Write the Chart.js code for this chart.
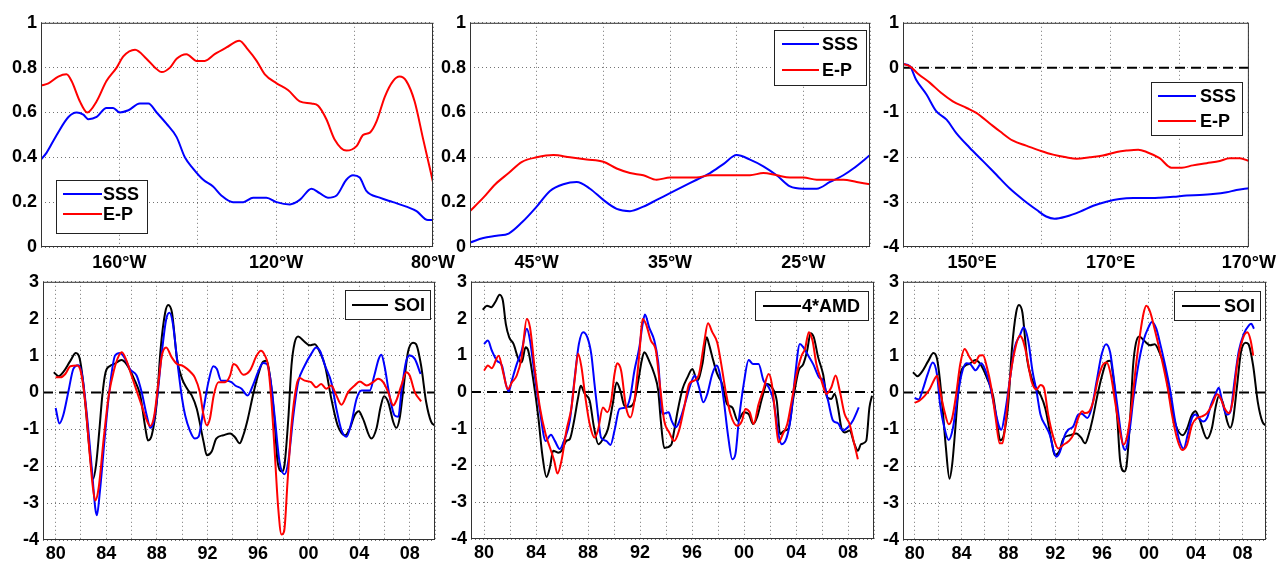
<!DOCTYPE html>
<html>
<head>
<meta charset="utf-8">
<script src="https://cdn.jsdelivr.net/npm/chart.js@4.4.1/dist/chart.umd.min.js"></script>
<style>
  body { margin: 0; background: #fff; width: 1277px; height: 562px; position: relative; overflow: hidden; }
  canvas { position: absolute; }
</style>
</head>
<body>
<canvas id="c1"></canvas>
<canvas id="c2"></canvas>
<canvas id="c3"></canvas>
<canvas id="c4"></canvas>
<canvas id="c5"></canvas>
<canvas id="c6"></canvas>
<script>
// ---- top row: correlation along longitude ----
const p1SssLon = [-180,-178.6,-176,-173,-170.9,-169.2,-167.9,-165.8,-163.3,-161.6,-159.9,-157.7,-154.8,-152.6,-150.5,-148,-145.4,-143.3,-141.2,-138.6,-136.1,-134,-131,-128.4,-125.9,-122.5,-119.9,-116.5,-114,-111,-108.9,-106.8,-104.6,-102.1,-100.4,-98.7,-97,-93.6,-90.2,-86.8,-84.2,-81.3,-80];
const p1SssVal = [0.39,0.42,0.5,0.58,0.6,0.59,0.57,0.58,0.62,0.62,0.6,0.61,0.64,0.64,0.6,0.55,0.49,0.4,0.35,0.3,0.27,0.23,0.2,0.2,0.22,0.22,0.2,0.19,0.21,0.26,0.24,0.22,0.23,0.3,0.32,0.31,0.25,0.22,0.2,0.18,0.16,0.12,0.12];
const p1EpLon = [-180,-178.1,-175.6,-173.5,-172.2,-170.1,-168.2,-165.8,-163.3,-160.7,-159,-156,-153.1,-150.9,-149.2,-147.1,-145.4,-142.9,-140.3,-138.2,-135.7,-132.7,-129.4,-127.2,-125,-122.9,-119.9,-117,-114,-111,-109.3,-107.2,-105.1,-102.1,-99.5,-97.8,-96.1,-94.4,-92.3,-90.2,-88.5,-86.8,-84.7,-82.5,-80];
const p1EpVal = [0.72,0.73,0.76,0.77,0.74,0.65,0.6,0.65,0.74,0.8,0.85,0.88,0.84,0.8,0.78,0.8,0.84,0.86,0.83,0.83,0.86,0.89,0.92,0.88,0.83,0.77,0.73,0.7,0.65,0.64,0.63,0.57,0.48,0.43,0.45,0.5,0.51,0.56,0.67,0.74,0.76,0.74,0.65,0.48,0.29];

const p2SssLon = [-50,-49,-48,-47.1,-46.1,-45,-44,-43,-42,-41,-40,-39,-38,-37,-36,-35,-34,-33,-32,-31,-30,-29,-28,-27,-26,-25,-24,-23,-22,-21.25,-20];
const p2SssVal = [0.02,0.04,0.05,0.06,0.11,0.18,0.25,0.28,0.29,0.26,0.21,0.17,0.16,0.18,0.21,0.24,0.27,0.3,0.33,0.37,0.41,0.39,0.36,0.32,0.27,0.26,0.26,0.29,0.32,0.35,0.41];
const p2EpLon = [-50,-49,-48.1,-47.1,-46.1,-45,-43.75,-42.5,-41.25,-40,-39,-38,-37,-36,-35,-34,-33,-32,-31,-30,-29,-28,-27,-26,-25,-24,-23,-22,-21,-20];
const p2EpVal = [0.16,0.22,0.28,0.33,0.38,0.4,0.41,0.4,0.39,0.38,0.35,0.33,0.32,0.3,0.31,0.31,0.31,0.32,0.32,0.32,0.32,0.33,0.32,0.31,0.31,0.3,0.3,0.3,0.29,0.28];

const p3SssLon = [140,141,141.9,143.4,144.8,146.3,147.7,149.6,151.6,153.5,155.4,157.4,159.3,160.7,161.9,163.6,165.6,167.5,169.4,171.3,173.3,175.2,177.1,179.1,181,182.9,184.8,186.8,188.2,190];
const p3SssVal = [0.08,0.03,-0.27,-0.6,-0.97,-1.16,-1.46,-1.78,-2.09,-2.39,-2.69,-2.95,-3.17,-3.32,-3.37,-3.32,-3.21,-3.08,-2.99,-2.93,-2.91,-2.91,-2.9,-2.88,-2.85,-2.84,-2.82,-2.78,-2.73,-2.69];
const p3EpLon = [140,141,142.2,143.9,145.5,147.2,149.2,150.6,152.5,154,155.9,157.8,159.8,161.7,163.6,165.1,167,168.9,170.9,172.3,174,175.2,177.1,178.8,180.3,181.9,183.9,185.8,187.2,188.7,190];
const p3EpVal = [0.08,0.03,-0.14,-0.34,-0.56,-0.75,-0.9,-1.01,-1.24,-1.42,-1.63,-1.74,-1.85,-1.94,-2.0,-2.03,-2.0,-1.96,-1.88,-1.85,-1.83,-1.88,-2.02,-2.23,-2.23,-2.18,-2.13,-2.08,-2.02,-2.02,-2.08];

// ---- bottom row: time series ----
const soiYear = [1979.85,1980.25,1980.6,1981.15,1981.6,1981.9,1982.15,1982.4,1982.65,1982.97,1983.2,1983.45,1983.7,1983.95,1984.3,1984.7,1985.2,1985.6,1986.2,1986.7,1987.1,1987.3,1987.6,1988.0,1988.3,1988.66,1988.9,1989.2,1989.6,1990.0,1990.4,1990.76,1991.16,1991.7,1991.95,1992.34,1992.7,1993.26,1993.8,1994.2,1994.55,1994.84,1995.2,1995.6,1996.0,1996.4,1996.7,1996.94,1997.3,1997.55,1997.9,1998.1,1998.4,1998.65,1998.9,1999.18,1999.6,2000.1,2000.5,2000.9,2001.3,2001.8,2002.3,2002.9,2003.26,2003.65,2003.97,2004.3,2004.97,2005.37,2005.7,2005.97,2006.3,2006.7,2006.94,2007.2,2007.5,2007.86,2008.26,2008.5,2008.9,2009.3,2009.7,2009.97];
const soiVal = [0.55,0.44,0.55,0.85,1.07,0.92,0.35,-0.5,-1.45,-2.34,-1.95,-1.05,-0.05,0.55,0.72,0.78,0.88,0.77,0.37,-0.1,-0.98,-1.3,-1.16,-0.26,1.17,2.16,2.37,2.16,0.9,0.37,0.1,-0.08,-0.44,-1.34,-1.7,-1.6,-1.25,-1.16,-1.11,-1.22,-1.38,-1.16,-0.71,-0.08,0.46,0.83,0.86,0.46,-0.71,-1.87,-2.14,-1.96,-0.71,0.73,1.35,1.52,1.4,1.28,1.31,1.09,0.73,-0.17,-0.89,-1.16,-0.98,-0.62,-0.51,-0.71,-1.25,-0.98,-0.39,-0.1,-0.26,-0.8,-0.96,-0.71,0.1,1.09,1.35,1.31,0.73,-0.26,-0.8,-0.89];

const p4BlueYear = [1980,1980.3,1980.6,1981,1981.4,1981.8,1982.1,1982.5,1982.9,1983.13,1983.26,1983.5,1983.9,1984.3,1984.7,1985.1,1985.5,1985.9,1986.4,1986.8,1987.2,1987.5,1987.74,1988.05,1988.4,1988.74,1989,1989.26,1989.6,1990,1990.24,1990.6,1991,1991.3,1991.7,1992.08,1992.47,1992.74,1993.1,1993.5,1993.9,1994.2,1994.7,1995.18,1995.6,1996,1996.4,1996.7,1997.02,1997.34,1997.7,1998.1,1998.4,1998.8,1999.18,1999.7,2000.2,2000.6,2000.9,2001.3,2001.8,2002.2,2002.6,2003,2003.4,2003.8,2004.2,2004.84,2005.2,2005.55,2005.76,2006,2006.4,2006.8,2007.1,2007.34,2007.7,2008,2008.4,2008.86];
const p4BlueVal = [-0.42,-0.84,-0.62,0.01,0.64,0.74,0.46,-0.71,-2.23,-3.13,-3.33,-2.68,-1.16,0.19,1.0,1.07,0.91,0.62,0.46,0.01,-0.62,-0.96,-0.8,-0.08,1.09,1.98,2.16,1.89,0.9,-0.17,-0.62,-1.02,-1.25,-1.2,-0.44,0.28,0.71,0.64,0.32,0.32,0.28,0.19,0.1,-0.08,0.19,0.55,0.8,0.77,0.28,-0.71,-1.87,-2.22,-1.87,-0.62,0.28,0.73,1.04,1.22,1.13,0.73,0.28,-0.44,-1.02,-1.2,-0.8,-0.17,0.05,0.05,0.46,0.91,1.02,0.73,-0.08,-0.62,-0.66,0.01,0.82,1.0,0.91,0.5];
const p4RedYear = [1980,1980.4,1980.76,1981.16,1981.7,1982,1982.34,1982.7,1982.95,1983.13,1983.4,1983.8,1984.2,1984.6,1985,1985.24,1985.6,1986,1986.4,1986.8,1987.2,1987.47,1987.8,1988.13,1988.4,1988.74,1989.18,1989.6,1990,1990.4,1990.76,1991,1991.4,1991.7,1991.95,1992.2,1992.5,1992.87,1993.4,1993.8,1994.05,1994.3,1994.84,1995.36,1995.9,1996.23,1996.55,1996.8,1997.07,1997.34,1997.6,1997.86,1998.07,1998.34,1998.65,1999.05,1999.3,1999.7,2000.2,2000.6,2001,2001.4,2001.8,2002.2,2002.6,2003.13,2003.65,2004.05,2004.6,2005.1,2005.5,2005.9,2006.3,2006.7,2006.94,2007.34,2007.73,2008,2008.4,2008.9];
const p4RedVal = [0.41,0.41,0.5,0.71,0.73,0.55,-0.26,-1.7,-2.59,-2.93,-2.59,-1.25,-0.08,0.59,1.0,1.09,0.86,0.46,0.05,-0.35,-0.75,-0.91,-0.62,0.28,1.0,1.22,0.95,0.77,0.73,0.64,0.52,0.41,0.01,-0.62,-0.89,-0.71,-0.08,0.28,0.28,0.46,0.77,0.73,0.48,0.59,1.0,1.13,1.0,0.73,-0.26,-1.7,-3.13,-3.85,-3.76,-2.41,-0.89,0.19,0.39,0.32,0.28,0.14,0.23,0.1,0.19,-0.08,-0.33,0.01,0.19,0.3,0.19,0.28,0.37,0.28,0.01,-0.35,-0.22,0.19,0.55,0.46,0.01,-0.24];

const amdYear = [1979.9,1980.23,1980.56,1980.87,1981.2,1981.45,1981.68,1981.94,1982.27,1982.65,1982.9,1983.2,1983.4,1983.8,1984.18,1984.48,1984.8,1985.07,1985.32,1985.7,1985.96,1986.34,1986.6,1986.93,1987.24,1987.44,1987.75,1988.13,1988.46,1988.8,1989.15,1989.53,1989.9,1990.2,1990.5,1990.8,1991.18,1991.57,1991.87,1992.13,1992.33,1992.7,1993.1,1993.4,1993.6,1993.86,1994.4,1994.63,1994.9,1995.27,1995.65,1996.03,1996.4,1996.8,1997.13,1997.3,1997.64,1997.94,1998.32,1998.7,1999.1,1999.52,1999.98,2000.36,2000.7,2001,2001.4,2001.76,2002.14,2002.52,2002.78,2003.08,2003.4,2003.8,2004.2,2004.56,2004.86,2005.12,2005.37,2005.7,2006.08,2006.4,2006.72,2006.97,2007.23,2007.48,2007.74,2008.12,2008.5,2008.76,2009,2009.4,2009.65,2009.85];
const amdVal = [2.24,2.35,2.31,2.45,2.65,2.49,1.85,1.49,1.31,0.9,0.81,1.22,1.13,0.31,-0.69,-1.69,-2.31,-2.05,-1.6,-1.65,-1.6,-1.33,-1.28,-0.78,-0.15,0.17,-0.05,-0.24,-0.96,-1.42,-1.28,-1.01,-0.33,0.26,0.02,-0.37,-0.4,-0.24,0.31,0.85,1.08,0.85,0.49,0.04,-0.78,-1.52,-1.44,-1.05,-0.51,0.08,0.4,0.63,0.31,0.76,1.49,1.31,0.85,0.49,0.22,-0.33,-0.42,-0.78,-0.55,-0.6,-0.87,-0.69,-0.15,0.22,0.13,-0.24,-1.15,-1.05,-1.01,-0.15,0.58,0.76,1.13,1.6,1.49,0.95,0.49,-0.15,-0.19,-0.05,-0.42,-0.96,-1.1,-1.05,-1.42,-1.6,-1.42,-1.33,-0.42,-0.1];
const p5BlueYear = [1980,1980.3,1980.6,1981,1981.38,1981.68,1981.9,1982.14,1982.52,1982.9,1983.3,1983.54,1983.92,1984.3,1984.74,1985.15,1985.45,1985.83,1986.2,1986.6,1986.98,1987.3,1987.62,1987.95,1988.25,1988.5,1988.76,1989,1989.4,1989.73,1990.04,1990.42,1990.93,1991.24,1991.57,1991.95,1992.2,1992.38,1992.7,1993.1,1993.4,1993.73,1994.2,1994.43,1994.76,1995.14,1995.52,1995.9,1996.21,1996.54,1996.87,1997.18,1997.56,1997.9,1998.14,1998.45,1998.76,1999.1,1999.34,1999.6,1999.98,2000.36,2000.7,2001.12,2001.5,2001.9,2002.27,2002.65,2002.9,2003.28,2003.6,2003.92,2004.3,2004.56,2004.86,2005.32,2005.78,2006.08,2006.47,2006.85,2007.23,2007.6,2007.99,2008.37,2008.83];
const p5BlueVal = [1.31,1.4,1.13,0.85,0.72,0.22,0.02,0.31,0.76,1.13,1.72,1.4,0.4,-0.51,-1.33,-1.16,-1.33,-1.55,-1.28,-0.78,0.4,1.31,1.63,1.49,1.04,0.22,-0.6,-1.24,-1.33,-1.44,-1.05,-0.46,-0.42,-0.15,0.58,1.22,1.85,2.11,1.76,1.4,0.81,-0.6,-0.55,-0.78,-0.96,-0.69,-0.24,0.22,0.45,0.13,-0.28,-0.05,0.49,0.72,0.49,-0.24,-1.15,-1.83,-1.69,-0.78,0.22,0.87,0.76,0.76,0.31,0.13,-0.24,-1.15,-1.42,-1.24,-0.69,0.4,1.31,1.22,1.04,0.76,0.4,0.31,-0.24,-0.78,-0.85,-1.05,-0.96,-0.78,-0.42];
const p5RedYear = [1980,1980.3,1980.6,1981.12,1981.5,1981.83,1982.14,1982.52,1982.9,1983.29,1983.54,1983.92,1984.3,1984.74,1985.07,1985.4,1985.65,1985.96,1986.34,1986.73,1986.98,1987.24,1987.5,1987.8,1988.13,1988.5,1988.76,1989.15,1989.48,1989.78,1990.04,1990.24,1990.55,1990.93,1991.26,1991.57,1991.95,1992.2,1992.46,1992.84,1993.22,1993.55,1993.86,1994.25,1994.63,1995,1995.4,1995.78,1996.16,1996.54,1996.92,1997.23,1997.56,1997.94,1998.25,1998.58,1998.96,1999.47,1999.85,2000.1,2000.44,2000.74,2001.12,2001.5,2001.9,2002.14,2002.4,2002.65,2002.98,2003.33,2003.67,2004.05,2004.43,2004.69,2004.99,2005.27,2005.57,2005.96,2006.34,2006.72,2007.05,2007.36,2007.74,2008.12,2008.43,2008.76];
const p5RedVal = [0.58,0.72,0.65,0.99,0.49,0.08,0.26,0.45,0.95,1.99,1.76,0.58,-0.42,-1.15,-1.51,-1.87,-2.22,-1.87,-1.05,-0.42,0.35,1.04,0.67,-0.15,-0.87,-1.24,-1.05,-0.42,-0.55,-0.24,0.49,0.78,0.58,-0.42,-0.69,-0.24,1.04,1.99,1.85,1.4,1.13,0.13,-0.78,-1.1,-1.33,-1.05,-0.42,0.22,0.31,0.49,1.31,1.87,1.63,1.35,0.76,0.04,-0.6,-0.92,-0.78,-0.46,-0.55,-0.87,-0.33,0.08,0.49,0.22,-0.6,-1.37,-1.15,-0.87,-0.24,0.49,0.99,1.17,1.63,1.4,0.76,0.31,-0.05,0.13,0.45,0.04,-0.6,-0.87,-1.33,-1.83];

const p6BlueYear = [1980,1980.34,1980.69,1981.1,1981.54,1981.9,1982.17,1982.54,1982.9,1983.26,1983.6,1984,1984.4,1984.74,1985.2,1985.69,1986.06,1986.4,1986.83,1987.2,1987.4,1987.69,1988.11,1988.54,1988.97,1989.31,1989.69,1990.06,1990.4,1990.74,1991.2,1991.54,1991.89,1992.11,1992.4,1992.83,1993.11,1993.54,1993.97,1994.26,1994.74,1995.11,1995.54,1995.97,1996.34,1996.69,1997.03,1997.4,1997.77,1997.97,1998.34,1998.68,1999.11,1999.54,1999.97,2000.25,2000.63,2000.97,2001.4,2001.83,2002.25,2002.63,2002.97,2003.31,2003.68,2003.97,2004.25,2004.63,2004.97,2005.31,2005.68,2005.97,2006.25,2006.63,2006.97,2007.31,2007.68,2008.11,2008.54,2008.74,2008.97];
const p6BlueVal = [-0.15,-0.19,0.08,0.49,0.81,0.49,-0.33,-0.97,-1.29,-0.97,-0.24,0.49,0.79,0.77,0.6,0.79,0.58,0.22,-0.42,-0.92,-1.01,-0.6,0.31,1.22,1.54,1.77,1.41,0.58,0.04,-0.6,-0.92,-1.15,-1.61,-1.74,-1.61,-1.15,-1.01,-0.92,-0.6,-0.58,-0.69,-0.42,0.31,1.04,1.31,1.09,0.31,-0.6,-1.42,-1.56,-1.06,-0.15,0.77,1.41,1.77,1.91,1.73,1.31,0.72,0.04,-0.79,-1.33,-1.52,-1.15,-0.69,-0.6,-0.69,-0.79,-0.69,-0.33,-0.05,0.13,-0.24,-0.6,-0.51,0.31,1.13,1.59,1.82,1.86,1.73];
const p6RedYear = [1980,1980.4,1980.83,1981.26,1981.69,1981.91,1982.17,1982.54,1982.91,1983.2,1983.54,1983.89,1984.26,1984.69,1985.11,1985.54,1985.83,1986.17,1986.54,1986.91,1987.26,1987.49,1987.77,1988.11,1988.54,1988.97,1989.2,1989.54,1989.97,1990.4,1990.74,1991.03,1991.4,1991.83,1992.26,1992.69,1993.11,1993.54,1993.97,1994.3,1994.54,1994.91,1995.25,1995.68,1996.11,1996.4,1996.74,1997.11,1997.48,1997.83,1998.17,1998.54,1998.91,1999.25,1999.54,1999.77,2000.11,2000.45,2000.83,2001.25,2001.6,2001.97,2002.4,2002.83,2003.25,2003.68,2004.11,2004.54,2004.97,2005.4,2005.83,2006.11,2006.45,2006.83,2007.2,2007.54,2007.97,2008.4,2008.69,2008.91];
const p6RedVal = [-0.28,-0.22,-0.1,0.08,0.36,0.45,0.04,-0.51,-0.86,-0.69,-0.05,0.77,1.18,0.95,0.79,1.0,1.01,0.68,0.13,-0.69,-1.38,-1.38,-0.79,0.31,1.13,1.54,1.45,1.04,0.31,0.08,0.2,0.13,-0.6,-1.2,-1.52,-1.42,-1.33,-1.15,-0.69,-0.51,-0.56,-0.51,-0.24,0.4,0.77,0.81,0.49,-0.24,-0.97,-1.42,-1.15,-0.33,0.77,1.59,2.14,2.35,2.18,1.77,1.27,0.68,0.13,-0.6,-1.24,-1.56,-1.42,-0.88,-0.69,-0.65,-0.56,-0.33,-0.05,-0.15,-0.42,-0.56,-0.15,0.77,1.41,1.63,1.41,1.0];

const BLUE = '#0000ff', RED = '#ff0000', BLACK = '#000000';
const FONT = { family: '"Liberation Sans", Arial, sans-serif', weight: 'bold', size: 18 };

function pts(xs, ys) {
    return xs.map((x, i) => ({ x: x, y: ys[i] }));
}

function line(label, xs, ys, color) {
    return {
        label: label, data: pts(xs, ys), borderColor: color, borderWidth: 2,
        pointRadius: 0, fill: false, cubicInterpolationMode: 'monotone'
    };
}

// axes frame, dashed zero line and MATLAB style legend box
const frame = {
    id: 'frame',
    beforeDatasetsDraw(chart, args, o) {
        if (!o.zero) return;
        const { ctx, chartArea: a } = chart;
        const y = chart.scales.y.getPixelForValue(0);
        ctx.save();
        ctx.strokeStyle = '#000';
        ctx.lineWidth = 2;
        ctx.setLineDash([10, 6]);
        ctx.beginPath();
        ctx.moveTo(a.left, y);
        ctx.lineTo(a.right, y);
        ctx.stroke();
        ctx.restore();
    },
    afterDatasetsDraw(chart) {
        const { ctx, chartArea: a } = chart;
        ctx.save();
        ctx.strokeStyle = '#333';
        ctx.lineWidth = 1;
        ctx.strokeRect(a.left + 0.5, a.top + 0.5, a.right - a.left - 1, a.bottom - a.top - 1);
        ctx.restore();
    },
    afterDraw(chart, args, o) {
        const lg = o.legend;
        if (!lg) return;
        const { ctx, chartArea: a } = chart;
        const x = Math.round(a.left + lg.dx), y = Math.round(a.top + lg.dy);
        ctx.save();
        ctx.fillStyle = '#fff';
        ctx.fillRect(x, y, lg.w, lg.h);
        ctx.strokeStyle = '#222';
        ctx.lineWidth = 1;
        ctx.strokeRect(x + 0.5, y + 0.5, lg.w, lg.h);
        ctx.font = 'bold 18px "Liberation Sans", Arial, sans-serif';
        ctx.textBaseline = 'middle';
        lg.items.forEach((it, i) => {
            const ry = y + lg.rows[i];
            ctx.strokeStyle = it.color;
            ctx.lineWidth = 2;
            ctx.beginPath();
            ctx.moveTo(x + lg.l1, ry);
            ctx.lineTo(x + lg.l2, ry);
            ctx.stroke();
            ctx.fillStyle = '#000';
            ctx.fillText(it.label, x + lg.tx, ry + 1);
        });
        ctx.restore();
    }
};
Chart.register(frame);

function makePanel(id, area, xs, ys, datasets, extra) {
    const cv = document.getElementById(id);
    cv.width = area.W + 76;
    cv.height = area.H + 48;
    cv.style.left = (area.L - 44) + 'px';
    cv.style.top = (area.T - 14) + 'px';
    const grid = { color: 'rgba(0,0,0,0.55)', drawTicks: false, lineWidth: 1 };
    return new Chart(cv, {
        type: 'line',
        data: { datasets: datasets },
        options: {
            responsive: false, animation: false, devicePixelRatio: 1,
            layout: { padding: { left: 4, top: 14, right: 32, bottom: 4 } },
            plugins: { legend: { display: false }, tooltip: { enabled: false }, frame: extra },
            scales: {
                x: {
                    type: 'linear', min: xs.min, max: xs.max,
                    afterFit: s => { s.height = 30; },
                    ticks: { stepSize: xs.step, includeBounds: false, autoSkip: false, maxRotation: 0, padding: xs.pad, font: FONT, color: '#000', callback: xs.fmt },
                    grid: grid, border: { display: false, dash: [1, 3] }
                },
                y: {
                    min: ys.min, max: ys.max,
                    afterFit: s => { s.width = 40; },
                    ticks: { stepSize: ys.step, autoSkip: false, padding: 4, font: FONT, color: '#000', callback: ys.fmt },
                    grid: grid, border: { display: false, dash: [1, 3] }
                }
            }
        }
    });
}

const fracFmt = v => String(+v.toFixed(1));
const intFmt = v => String(Math.round(v));
const yearFmt = v => (v % 4 === 0) ? String(v % 100).padStart(2, '0') : '';
const yearAxis = { min: 1979, max: 2010, step: 2, pad: 3, fmt: yearFmt };
const ySeries = { min: -4, max: 3, step: 1, fmt: intFmt };

makePanel('c1', { L: 41, T: 22, W: 392, H: 225 },
    { min: -180, max: -80, step: 20, pad: 5, fmt: v => (v % 40 === 0) ? (-v) + '°W' : '' },
    { min: 0, max: 1, step: 0.2, fmt: fracFmt },
    [line('E-P', p1EpLon, p1EpVal, RED), line('SSS', p1SssLon, p1SssVal, BLUE)],
    { legend: { dx: 15, dy: 157, w: 91, h: 53, rows: [14, 34], l1: 7, l2: 46, tx: 47,
        items: [{ label: 'SSS', color: BLUE }, { label: 'E-P', color: RED }] } });

makePanel('c2', { L: 470, T: 22, W: 400, H: 225 },
    { min: -50, max: -20, step: 5, pad: 5, fmt: v => (v % 10 !== 0) ? (-v) + '°W' : '' },
    { min: 0, max: 1, step: 0.2, fmt: fracFmt },
    [line('E-P', p2EpLon, p2EpVal, RED), line('SSS', p2SssLon, p2SssVal, BLUE)],
    { legend: { dx: 304, dy: 7, w: 92, h: 55, rows: [14, 40], l1: 8, l2: 45, tx: 48,
        items: [{ label: 'SSS', color: BLUE }, { label: 'E-P', color: RED }] } });

makePanel('c3', { L: 903, T: 22, W: 346, H: 225 },
    { min: 140, max: 190, step: 10, pad: 5, fmt: v => (v % 20 === 10) ? (v <= 180 ? v + '°E' : (360 - v) + '°W') : '' },
    { min: -4, max: 1, step: 1, fmt: intFmt },
    [line('E-P', p3EpLon, p3EpVal, RED), line('SSS', p3SssLon, p3SssVal, BLUE)],
    { zero: true, legend: { dx: 248, dy: 59, w: 91, h: 53, rows: [14, 39], l1: 7, l2: 45, tx: 49,
        items: [{ label: 'SSS', color: BLUE }, { label: 'E-P', color: RED }] } });

makePanel('c4', { L: 43, T: 281, W: 392, H: 259 }, yearAxis, ySeries,
    [line('E-P', p4RedYear, p4RedVal, RED), line('SSS', p4BlueYear, p4BlueVal, BLUE), line('SOI', soiYear, soiVal, BLACK)],
    { zero: true, legend: { dx: 302, dy: 8, w: 85, h: 29, rows: [15], l1: 7, l2: 43, tx: 49,
        items: [{ label: 'SOI', color: BLACK }] } });

makePanel('c5', { L: 471, T: 281, W: 403, H: 258 }, yearAxis, ySeries,
    [line('E-P', p5RedYear, p5RedVal, RED), line('SSS', p5BlueYear, p5BlueVal, BLUE), line('4*AMD', amdYear, amdVal, BLACK)],
    { zero: true, legend: { dx: 284, dy: 9, w: 113, h: 29, rows: [15], l1: 8, l2: 46, tx: 47,
        items: [{ label: '4*AMD', color: BLACK }] } });

makePanel('c6', { L: 903, T: 281, W: 363, H: 259 }, yearAxis, ySeries,
    [line('E-P', p6RedYear, p6RedVal, RED), line('SSS', p6BlueYear, p6BlueVal, BLUE), line('SOI', soiYear, soiVal, BLACK)],
    { zero: true, legend: { dx: 271, dy: 9, w: 86, h: 29, rows: [15], l1: 8, l2: 46, tx: 50,
        items: [{ label: 'SOI', color: BLACK }] } });
</script>
</body>
</html>
